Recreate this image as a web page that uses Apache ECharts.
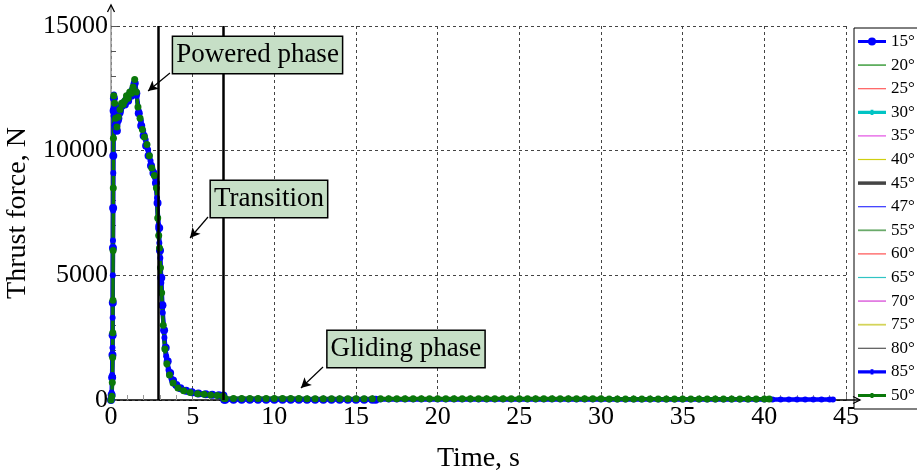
<!DOCTYPE html>
<html>
<head>
<meta charset="utf-8">
<title>Thrust force vs time</title>
<script src="https://cdn.jsdelivr.net/npm/echarts@6/dist/echarts.min.js"></script>
<style>
  html, body { margin: 0; padding: 0; background: #fff; }
  #chart { width: 917px; height: 476px; }
</style>
</head>
<body>
<div id="chart"></div>
<script>
// Launch angles, in legend order
const angleNames = ['15°', '20°', '25°', '30°', '35°', '40°', '45°', '47°', '55°', '60°', '65°', '70°', '75°', '80°', '85°', '50°'];

// Axis ticks
const timeTicks = [0, 5, 10, 15, 20, 25, 30, 35, 40, 45];
const thrustTicks = [0, 5000, 10000, 15000];

// Powered + transition phase, [time s, thrust N]
const powered50 = [
  [0, 0], [0.05, 150], [0.08, 700], [0.10, 1700], [0.11, 2700], [0.12, 4000], [0.13, 6000], [0.14, 8500],
  [0.15, 10500], [0.17, 12200], [0.22, 11900], [0.28, 11300], [0.36, 10950], [0.45, 11350], [0.55, 11650],
  [0.65, 11900], [0.75, 11850], [0.85, 12000], [0.95, 12200], [1.05, 12100], [1.15, 12350], [1.25, 12300],
  [1.35, 12550], [1.45, 12850], [1.55, 12350], [1.65, 11750], [1.78, 11300], [1.92, 10850], [2.05, 10550],
  [2.2, 10250], [2.35, 9800], [2.5, 9300], [2.65, 9000], [2.78, 8500], [2.86, 7300], [2.92, 6600], [2.97, 6100],
  [3.03, 5300], [3.1, 4300], [3.2, 3000], [3.3, 2050], [3.42, 1450], [3.58, 1000], [3.8, 680], [4.1, 480],
  [4.45, 370], [4.85, 300], [5.3, 255], [5.7, 228], [6.1, 205], [6.5, 185], [6.86, 165], [6.92, 60]
];
const powered15 = [
  [0, 0], [0.04, 200], [0.07, 900], [0.09, 1800], [0.10, 2600], [0.11, 3900], [0.12, 6100], [0.13, 7700],
  [0.14, 9800], [0.16, 11600], [0.18, 12100], [0.22, 11700], [0.28, 11000], [0.36, 10800], [0.45, 11300],
  [0.55, 11600], [0.65, 11800], [0.75, 11900], [0.85, 11850], [0.95, 12050], [1.05, 12000], [1.15, 12250],
  [1.25, 12200], [1.35, 12450], [1.45, 12700], [1.55, 12300], [1.7, 11500], [1.85, 11000], [2.0, 10600],
  [2.15, 10200], [2.3, 9800], [2.45, 9400], [2.6, 9100], [2.75, 8700], [2.85, 7900], [2.95, 6900], [3.0, 6000],
  [3.08, 4900], [3.15, 3800], [3.25, 2800], [3.35, 2100], [3.47, 1550], [3.62, 1080], [3.8, 780], [4.0, 600],
  [4.25, 470], [4.6, 370], [4.95, 310], [5.35, 260], [5.8, 230], [6.2, 210], [6.6, 195], [6.88, 180], [6.93, 10]
];
const powered85 = [
  [0, 0], [0.04, 300], [0.07, 1000], [0.09, 2100], [0.10, 3300], [0.11, 5000], [0.12, 6400], [0.13, 7600],
  [0.14, 9100], [0.16, 11400], [0.18, 12250], [0.23, 11800], [0.3, 11100], [0.38, 10800], [0.48, 11200],
  [0.58, 11500], [0.68, 11750], [0.78, 11950], [0.88, 11900], [0.98, 12100], [1.08, 12250], [1.18, 12200],
  [1.28, 12400], [1.38, 12650], [1.48, 12750], [1.58, 12200], [1.7, 11600], [1.83, 11200], [1.97, 10800],
  [2.12, 10450], [2.27, 10050], [2.42, 9600], [2.57, 9200], [2.7, 8900], [2.82, 8100], [2.9, 7000], [2.96, 6300],
  [3.02, 5700], [3.08, 4700], [3.17, 3500], [3.27, 2500], [3.38, 1750], [3.52, 1200], [3.7, 850], [3.95, 590],
  [4.3, 430], [4.7, 330], [5.1, 275], [5.5, 240], [5.9, 215], [6.3, 195], [6.7, 175], [6.88, 165], [6.93, 25]
];

// Gliding phase samples
const glideTime15 = [7, 7.5, 8, 8.5, 9, 9.5, 10, 10.5, 11, 11.5, 12, 12.5, 13, 13.5, 14, 14.5, 15, 15.5, 16, 16.2];
const glideThrust15 = [12, 12, 12, 12, 12, 12, 12, 12, 12, 12, 12, 12, 12, 12, 12, 12, 12, 12, 12, 12];

const glideTime50 = [7, 7.5, 8, 8.5, 9, 9.5, 10, 10.5, 11, 11.5, 12, 12.5, 13, 13.5, 14, 14.5, 15, 15.5, 16, 16.5,
  17, 17.5, 18, 18.5, 19, 19.5, 20, 20.5, 21, 21.5, 22, 22.5, 23, 23.5, 24, 24.5, 25, 25.5, 26, 26.5, 27, 27.5,
  28, 28.5, 29, 29.5, 30, 30.5, 31, 31.5, 32, 32.5, 33, 33.5, 34, 34.5, 35, 35.5, 36, 36.5, 37, 37.5, 38, 38.5,
  39, 39.5, 40, 40.3];
const glideThrust50 = [60, 60, 60, 60, 60, 60, 60, 60, 60, 60, 55, 55, 55, 55, 55, 55, 55, 55, 55, 55,
  55, 55, 55, 55, 55, 55, 55, 50, 50, 50, 50, 50, 50, 50, 50, 50, 50, 50, 50, 50, 50, 50,
  50, 50, 50, 50, 50, 45, 45, 45, 45, 45, 45, 45, 45, 45, 45, 45, 45, 45, 45, 45, 45, 45,
  45, 45, 45, 45];

const glideTime85 = [7, 7.5, 8, 8.5, 9, 9.5, 10, 10.5, 11, 11.5, 12, 12.5, 13, 13.5, 14, 14.5, 15, 15.5, 16, 16.5,
  17, 17.5, 18, 18.5, 19, 19.5, 20, 20.5, 21, 21.5, 22, 22.5, 23, 23.5, 24, 24.5, 25, 25.5, 26, 26.5, 27, 27.5,
  28, 28.5, 29, 29.5, 30, 30.5, 31, 31.5, 32, 32.5, 33, 33.5, 34, 34.5, 35, 35.5, 36, 36.5, 37, 37.5, 38, 38.5,
  39, 39.5, 40, 40.5, 41, 41.5, 42, 42.5, 43, 43.5, 44, 44.2];
const glideThrust85 = [22, 22, 22, 22, 22, 22, 22, 22, 22, 22, 22, 22, 22, 22, 22, 22, 22, 22, 22, 22,
  22, 22, 22, 22, 22, 22, 22, 22, 22, 22, 22, 22, 22, 22, 22, 22, 22, 22, 18, 18, 18, 18,
  18, 18, 18, 18, 18, 18, 18, 18, 18, 18, 18, 18, 18, 18, 18, 18, 18, 18, 18, 18, 18, 18,
  18, 18, 18, 18, 18, 18, 18, 18, 18, 18, 18, 18];

function zip(ts, vs) {
  const n = Math.min(ts.length, vs.length);
  const out = [];
  for (let i = 0; i < n; i++) out.push([ts[i], vs[i]]);
  return out;
}

const track15 = powered15.concat(zip(glideTime15, glideThrust15));
const track50 = powered50.concat(zip(glideTime50, glideThrust50));
const track85 = powered85.concat(zip(glideTime85, glideThrust85));

// Legend swatch shapes (28 px wide strokes, optional dot)
const swatchThin = 'path://M0,0H28V1.2H0Z';
const swatchMid = 'path://M0,0H28V1.8H0Z';
const swatchThick = 'path://M0,0H28V3.5H0Z';
const swatchDot = 'path://M0,2.5H28V5.5H0Z M10,4a4,4 0 1,1 8,0a4,4 0 1,1 -8,0Z';
const swatchSmallDot = 'path://M0,1H28V4.2H0Z M12.6,0H15.4V5.2H12.6Z';

// Line appearance per angle
const lineLook = {
  '15°': { color: '#0000ff', width: 3.5, symbol: 'circle', size: 8, swatch: swatchDot },
  '20°': { color: '#5fae5f', width: 1.5, swatch: swatchMid },
  '25°': { color: '#ff5a5a', width: 1.2, swatch: swatchThin },
  '30°': { color: '#00c4c4', width: 3.5, symbol: 'circle', size: 3, swatch: swatchSmallDot },
  '35°': { color: '#e24fe2', width: 1.2, swatch: swatchThin },
  '40°': { color: '#cfcf10', width: 1.2, swatch: swatchThin },
  '45°': { color: '#444444', width: 4, swatch: swatchThick },
  '47°': { color: '#3333ff', width: 1.2, swatch: swatchThin },
  '55°': { color: '#6aaa6a', width: 1.5, swatch: swatchMid },
  '60°': { color: '#ff5050', width: 1.2, swatch: swatchThin },
  '65°': { color: '#30c4c4', width: 1.2, swatch: swatchThin },
  '70°': { color: '#e27de2', width: 2, swatch: swatchMid },
  '75°': { color: '#d4d45a', width: 1.5, swatch: swatchMid },
  '80°': { color: '#555555', width: 1, swatch: swatchThin },
  '85°': { color: '#0000ff', width: 4.5, symbol: 'circle', size: 6, swatch: swatchSmallDot },
  '50°': { color: '#0a780a', width: 3.5, symbol: 'circle', size: 7, swatch: swatchSmallDot }
};

const trackFor = { '15°': track15, '85°': track85 };

const serif = 'Liberation Serif, Times New Roman, serif';

const series = [];

// Phase boundaries (beneath the curves)
series.push({
  type: 'line', name: 'boundaries', data: [], silent: true, z: 1,
  markLine: {
    silent: true, symbol: 'none', animation: false,
    label: { show: false },
    lineStyle: { color: '#000', width: 2.5, type: 'solid' },
    data: [{ xAxis: 2.9 }, { xAxis: 6.9 }]
  }
});

angleNames.forEach(function (name) {
  const look = lineLook[name];
  series.push({
    type: 'line',
    name: name,
    data: trackFor[name] || track50,
    z: 2,
    showAllSymbol: true,
    symbol: look.symbol || 'none',
    symbolSize: look.size || 0,
    itemStyle: { color: look.color },
    lineStyle: { color: look.color, width: look.width },
    emphasis: { disabled: true },
    animation: false
  });
});

// Phase annotations (on top)
const boxLabel = {
  show: true, position: 'inside',
  fontFamily: serif, fontSize: 27, color: '#000',
  backgroundColor: '#c6dfc6', borderColor: '#000', borderWidth: 1.5,
  padding: [3, 3, 2, 3], lineHeight: 31
};
series.push({
  type: 'line', name: 'annotations', data: [], silent: true, z: 10,
  markLine: {
    silent: true, animation: false,
    symbol: ['none', 'arrow'], symbolSize: [8, 10],
    label: { show: false },
    lineStyle: { color: '#000', width: 1.2, type: 'solid' },
    data: [
      [{ coord: [3.61, 13115] }, { coord: [2.27, 12393] }],
      [{ coord: [5.94, 7340] }, { coord: [4.84, 6497] }],
      [{ coord: [12.98, 1323] }, { coord: [11.63, 481] }]
    ]
  },
  markPoint: {
    silent: true, animation: false,
    symbol: 'rect', symbolSize: 0,
    label: boxLabel,
    data: [
      { coord: [8.97, 13837], value: 'Powered phase', label: { formatter: 'Powered phase' } },
      { coord: [9.67, 8061], value: 'Transition', label: { formatter: 'Transition' } },
      { coord: [18.06, 2045], value: 'Gliding phase', label: { formatter: 'Gliding phase' } }
    ]
  }
});

const chart = echarts.init(document.getElementById('chart'), null, { renderer: 'canvas' });

chart.setOption({
  animation: false,
  backgroundColor: '#fff',
  grid: { left: 111, right: 71, top: 26, bottom: 76, containLabel: false, outerBoundsMode: 'none' },
  legend: {
    orient: 'vertical', left: 854, top: 28,
    itemWidth: 28, itemHeight: 14, itemGap: 6.6,
    padding: [5, 30, 5, 4],
    borderColor: '#000', borderWidth: 1, backgroundColor: '#fff',
    selectedMode: false,
    symbolKeepAspect: true,
    textStyle: { fontFamily: serif, fontSize: 17, color: '#000' },
    data: angleNames.map(function (name) {
      return { name: name, icon: lineLook[name].swatch, itemStyle: { color: lineLook[name].color } };
    })
  },
  xAxis: {
    type: 'value', min: timeTicks[0], max: timeTicks[timeTicks.length - 1], interval: timeTicks[1] - timeTicks[0],
    name: 'Time, s', nameLocation: 'middle', nameGap: 45,
    nameTextStyle: { fontFamily: serif, fontSize: 28, color: '#000' },
    axisLine: { show: true, onZero: false, lineStyle: { color: '#000', width: 1.5 } },
    axisTick: { show: true, inside: true, length: 6, lineStyle: { color: '#777' } },
    minorTick: { show: true, splitNumber: 5, length: 5, lineStyle: { color: '#999' } },
    splitLine: { show: true, lineStyle: { color: '#444', width: 1, type: [3, 3] } },
    axisLabel: { fontFamily: serif, fontSize: 26, color: '#000', margin: 4 }
  },
  yAxis: {
    type: 'value', min: thrustTicks[0], max: thrustTicks[thrustTicks.length - 1], interval: thrustTicks[1] - thrustTicks[0],
    name: 'Thrust force, N', nameLocation: 'middle', nameGap: 76, nameRotate: 90,
    nameTextStyle: { fontFamily: serif, fontSize: 28, color: '#000' },
    axisLine: { show: true, onZero: false, lineStyle: { color: '#999', width: 1.5 } },
    axisTick: { show: true, inside: true, length: 6, lineStyle: { color: '#555' } },
    minorTick: { show: true, splitNumber: 5, length: 5, lineStyle: { color: '#555' } },
    splitLine: { show: true, lineStyle: { color: '#444', width: 1, type: [3, 3] } },
    axisLabel: { fontFamily: serif, fontSize: 26, color: '#000', margin: 3, formatter: function (v) { return String(v); } }
  },
  series: series
});

// Arrowed extensions of both axes
const origin = chart.convertToPixel({ gridIndex: 0 }, [timeTicks[0], thrustTicks[0]]);
const yTop = chart.convertToPixel({ gridIndex: 0 }, [timeTicks[0], thrustTicks[thrustTicks.length - 1]]);
const xEnd = chart.convertToPixel({ gridIndex: 0 }, [timeTicks[timeTicks.length - 1], thrustTicks[0]]);
const yTipY = yTop[1] - 21;
const xTipX = xEnd[0] + 14;
chart.setOption({
  graphic: [
    { type: 'line', z: 20, shape: { x1: yTop[0], y1: yTop[1], x2: yTop[0], y2: yTipY }, style: { stroke: '#999', lineWidth: 1.5 } },
    { type: 'polyline', z: 20, shape: { points: [[yTop[0] - 3.5, yTipY + 7], [yTop[0], yTipY], [yTop[0] + 3.5, yTipY + 7]] }, style: { stroke: '#000', lineWidth: 1.3, fill: null } },
    { type: 'line', z: 20, shape: { x1: xEnd[0], y1: origin[1], x2: xTipX, y2: origin[1] }, style: { stroke: '#000', lineWidth: 1.5 } },
    { type: 'polyline', z: 20, shape: { points: [[xTipX - 7, origin[1] - 3.5], [xTipX, origin[1]], [xTipX - 7, origin[1] + 3.5]] }, style: { stroke: '#000', lineWidth: 1.3, fill: null } }
  ]
});
</script>
</body>
</html>
